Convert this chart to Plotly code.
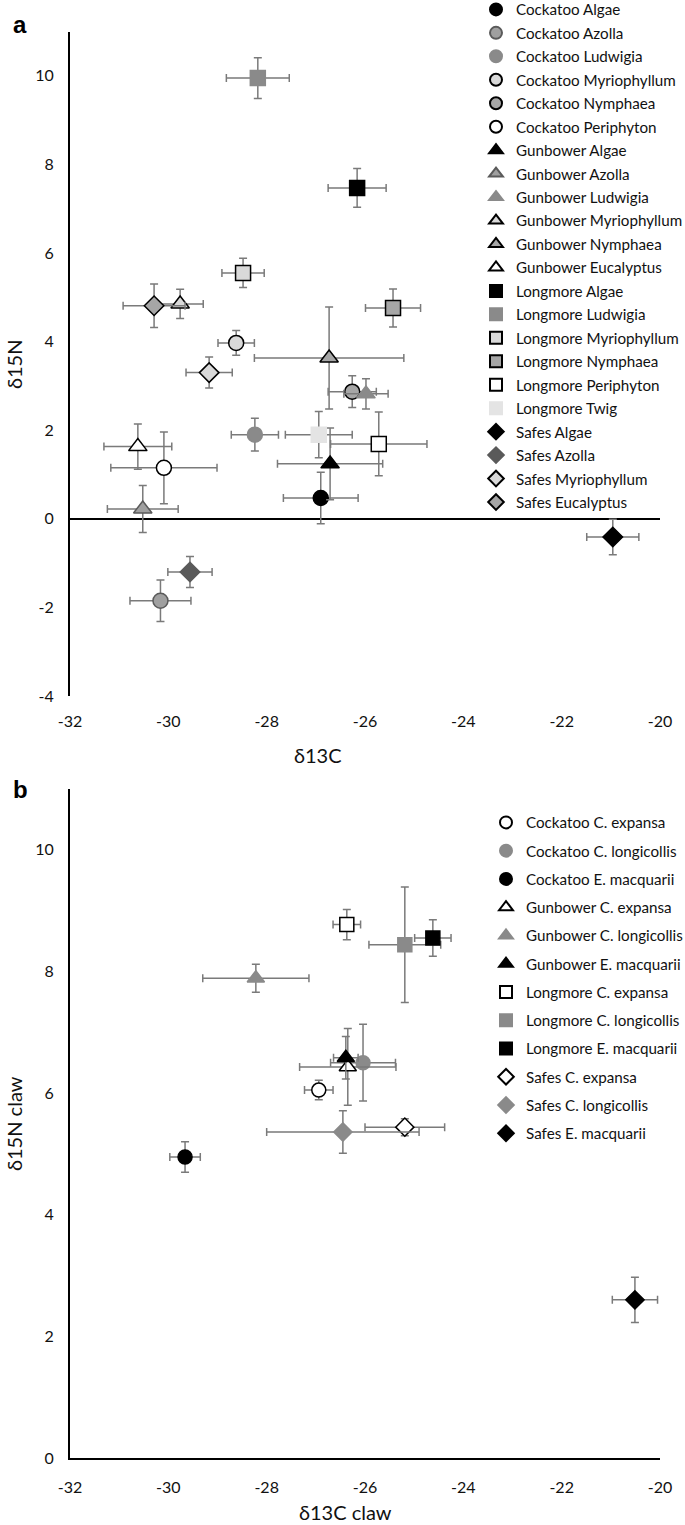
import plotly.graph_objects as go

# panel a: sources (delta13C, delta15N, sd)
a_names = ["Cockatoo Algae", "Cockatoo Azolla", "Cockatoo Ludwigia", "Cockatoo Myriophyllum",
           "Cockatoo Nymphaea", "Cockatoo Periphyton", "Gunbower Algae", "Gunbower Azolla",
           "Gunbower Ludwigia", "Gunbower Myriophyllum", "Gunbower Nymphaea", "Gunbower Eucalyptus",
           "Longmore Algae", "Longmore Ludwigia", "Longmore Myriophyllum", "Longmore Nymphaea",
           "Longmore Periphyton", "Longmore Twig", "Safes Algae", "Safes Azolla",
           "Safes Myriophyllum", "Safes Eucalyptus"]
a_c13 = [-26.90, -30.16, -28.24, -28.62, -26.26, -30.09, -26.71, -30.52, -25.98, -29.76, -26.73,
         -30.62, -26.16, -28.18, -28.48, -25.43, -25.72, -26.94, -20.96, -29.56, -29.17, -30.29]
a_n15 = [0.47, -1.85, 1.90, 3.97, 2.87, 1.15, 1.24, 0.22, 2.82, 4.85, 3.63,
         1.63, 7.47, 9.95, 5.55, 4.76, 1.69, 1.90, -0.41, -1.20, 3.30, 4.81]
a_c13_sd = [0.76, 0.62, 0.48, 0.37, 0.49, 1.08, 1.07, 0.72, 0.45, 0.47, 1.52,
            0.69, 0.59, 0.64, 0.43, 0.56, 0.98, 0.68, 0.53, 0.45, 0.47, 0.63]
a_n15_sd = [0.58, 0.47, 0.37, 0.28, 0.36, 0.81, 0.81, 0.53, 0.34, 0.33, 1.15,
            0.51, 0.44, 0.46, 0.33, 0.43, 0.72, 0.52, 0.40, 0.35, 0.35, 0.49]

# panel b: turtle claws
b_names = ["Cockatoo C. expansa", "Cockatoo C. longicollis", "Cockatoo E. macquarii",
           "Gunbower C. expansa", "Gunbower C. longicollis", "Gunbower E. macquarii",
           "Longmore C. expansa", "Longmore C. longicollis", "Longmore E. macquarii",
           "Safes C. expansa", "Safes C. longicollis", "Safes E. macquarii"]
b_c13 = [-26.94, -26.04, -29.66, -26.35, -28.22, -26.39, -26.37, -25.19, -24.62, -25.19, -26.45, -20.51]
b_n15 = [6.05, 6.50, 4.95, 6.43, 7.89, 6.58, 8.77, 8.44, 8.55, 5.44, 5.36, 2.60]
b_c13_sd = [0.29, 0.66, 0.31, 0.98, 1.08, 0.25, 0.28, 0.73, 0.37, 0.81, 1.55, 0.46]
b_n15_sd = [0.16, 0.63, 0.25, 0.63, 0.23, 0.35, 0.25, 0.95, 0.30, 0.14, 0.35, 0.37]

x_ticks = [-32, -30, -28, -26, -24, -22, -20]
x_ticktext = ["-32", "-30", "-28", "-26", "-24", "-22", "-20"]
a_yticks = [-4, -2, 0, 2, 4, 6, 8, 10]
a_yticktext = ["-4", "-2", "0", "2", "4", "6", "8", "10"]
b_yticks = [0, 2, 4, 6, 8, 10]

# marker styles: (fill, outline)
BLACK, LUD, MYR, NYM, TWIG, AZ, DARK = "#000000", "#8a8a8a", "#d9d9d9", "#a6a6a6", "#e4e4e4", "#a0a0a0", "#5a5a5a"
site_sym = {"Cockatoo": "circle", "Gunbower": "triangle-up", "Longmore": "square", "Safes": "diamond"}
a_fill = {"Algae": (BLACK, BLACK), "Azolla": (AZ, DARK), "Ludwigia": (LUD, LUD),
          "Myriophyllum": (MYR, BLACK), "Nymphaea": (NYM, BLACK), "Periphyton": ("white", BLACK),
          "Twig": (TWIG, TWIG), "Eucalyptus": ("white", BLACK)}
b_fill = {"expansa": ("white", BLACK), "longicollis": (LUD, LUD), "macquarii": (BLACK, BLACK)}

FONT = "Lato"
err_style = dict(type="data", visible=True, color="#7a7a7a", thickness=1.5, width=4)


def marker_for(name, fills, sizes):
    site = name.split()[0]
    key = name.split()[-1]
    if site == "Safes" and key == "Azolla":
        fill, line = DARK, DARK
    elif site == "Safes" and key == "Eucalyptus":
        fill, line = NYM, BLACK
    else:
        fill, line = fills[key]
    sym = site_sym[site]
    return dict(symbol=sym, size=sizes[sym], color=fill, line=dict(color=line, width=1.5))


fig = go.Figure()
a_sizes = {"circle": 15, "triangle-up": 16, "square": 15, "diamond": 15}
for i, n in enumerate(a_names):
    fig.add_trace(go.Scatter(
        x=[a_c13[i]], y=[a_n15[i]], mode="markers", name=n, legendgroup=n,
        marker=marker_for(n, a_fill, a_sizes),
        error_x=dict(array=[a_c13_sd[i]], **err_style),
        error_y=dict(array=[a_n15_sd[i]], **err_style),
        xaxis="x", yaxis="y", legend="legend"))

b_sizes = {"circle": 14, "triangle-up": 15, "square": 14, "diamond": 14}
for i, n in enumerate(b_names):
    fig.add_trace(go.Scatter(
        x=[b_c13[i]], y=[b_n15[i]], mode="markers", name=n, legendgroup=n,
        marker=marker_for(n, b_fill, b_sizes),
        error_x=dict(array=[b_c13_sd[i]], **err_style),
        error_y=dict(array=[b_n15_sd[i]], **err_style),
        xaxis="x2", yaxis="y2", legend="legend2"))

W, H = 685, 1525
L = 70
PW = 590


def px(v):
    # pixel column -> paper fraction
    return (v - L) / PW


def py(v):
    # pixel row -> paper fraction
    return 1 - v / H


tickfont = dict(family=FONT, size=16, color="#111111")
common_x = dict(range=[-32, -20], tickvals=x_ticks, ticktext=x_ticktext, showgrid=False,
                ticks="", tickfont=tickfont, ticklabelstandoff=14, domain=[0, 1])
legend_font = dict(family=FONT, size=15.2, color="#111111")
fig.update_layout(
    width=W, height=H,
    margin=dict(l=L, r=W - L - PW, t=0, b=0, autoexpand=False),
    paper_bgcolor="white", plot_bgcolor="white",
    font=dict(family=FONT, color="#111111"),
    xaxis=dict(anchor="y", showline=False, zeroline=False, **common_x),
    yaxis=dict(domain=[py(696), py(31.5)], range=[-4, 11], tickvals=a_yticks, ticktext=a_yticktext,
               showgrid=False, ticks="", tickfont=tickfont, ticklabelstandoff=11,
               showline=True, linecolor="black", linewidth=2,
               zeroline=True, zerolinecolor="black", zerolinewidth=2),
    xaxis2=dict(anchor="y2", showline=True, linecolor="black", linewidth=2, zeroline=False, **common_x),
    yaxis2=dict(domain=[py(1458), py(789)], range=[0, 11], tickvals=b_yticks,
                showgrid=False, ticks="", tickfont=tickfont, ticklabelstandoff=11,
                showline=True, linecolor="black", linewidth=2, zeroline=False),
    legend=dict(x=px(476), xanchor="left", y=py(-7), yanchor="top", font=legend_font,
                bgcolor="rgba(0,0,0,0)", traceorder="grouped", tracegroupgap=0.7, itemsizing="constant"),
    legend2=dict(x=px(486), xanchor="left", y=py(806), yanchor="top", font=legend_font,
                 bgcolor="rgba(0,0,0,0)", traceorder="grouped", tracegroupgap=5.5, itemsizing="constant"),
)

title_font = dict(family=FONT, size=20, color="#111111")
label_font = dict(family="Liberation Sans", size=24, color="black")
texts = [("<b>a</b>", 19.5, 24, 0, label_font),
         ("<b>b</b>", 20, 789, 0, label_font),
         ("δ15N", 14, 364, -90, title_font),
         ("δ13C", 318, 755, 0, title_font),
         ("δ15N claw", 14, 1124, -90, title_font),
         ("δ13C claw", 345, 1512, 0, title_font)]
fig.update_layout(annotations=[
    dict(text=t, x=px(xx), y=py(yy), xref="paper", yref="paper", xanchor="center", yanchor="middle",
         textangle=ang, showarrow=False, font=f)
    for t, xx, yy, ang, f in texts])

# the page body has a default 8px margin; drop it so the figure sits at the window corner
fig.write_html("out.html", config={"displayModeBar": False},
               post_script="document.body.style.margin='0';")
